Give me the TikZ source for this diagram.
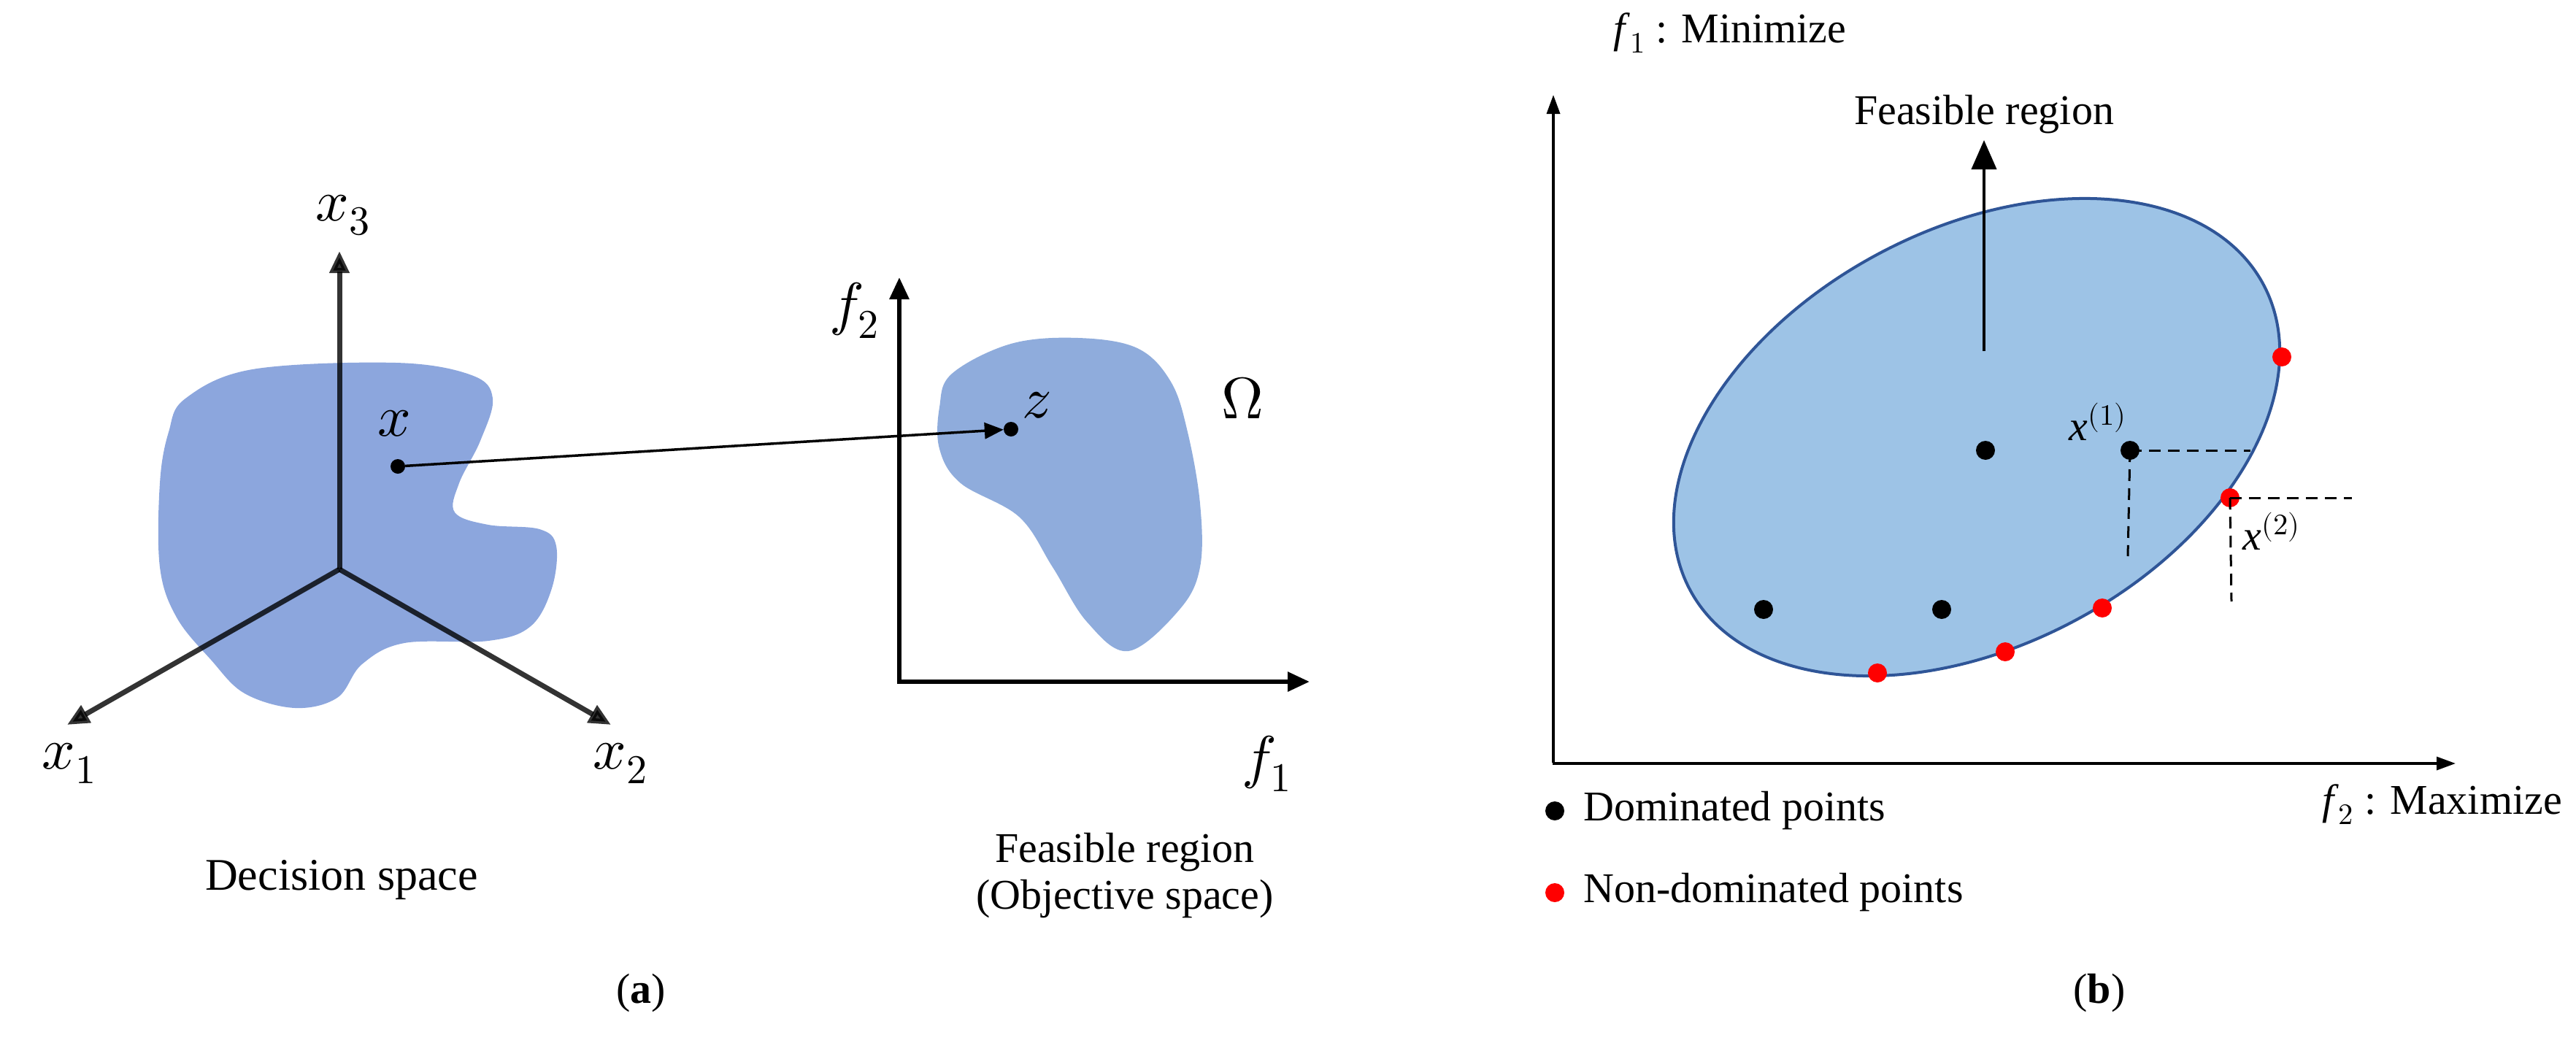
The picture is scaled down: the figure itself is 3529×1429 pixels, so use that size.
\documentclass[tikz,border=0pt]{standalone}
\usepackage{fontspec}
\usepackage{unicode-math}
\setmainfont{Liberation Serif}
\setmathfont{Latin Modern Math}
\usetikzlibrary{arrows.meta}
\definecolor{blobA}{RGB}{120,150,215}
\definecolor{blobB}{RGB}{143,172,220}
\definecolor{ellF}{RGB}{157,195,230}
\definecolor{ellD}{RGB}{47,85,151}
\tikzset{
 ax/.style={line width=7pt,-{Triangle[length=30pt,width=26pt]}},
 axr/.style={line width=3.5pt,-{Triangle[length=26pt,width=18pt]}},
 lbl/.style={font=\fontsize{58}{64}\selectfont,inner sep=0pt},
 mlbl/.style={font=\fontsize{80}{90}\selectfont,inner sep=0pt},
 bdot/.style={circle,fill=black,minimum size=26pt,inner sep=0pt},
 rdot/.style={circle,fill=red,minimum size=26pt,inner sep=0pt},
 dsh/.style={line width=3pt,dash pattern=on 16pt off 10pt},
}
\begin{document}
\begin{tikzpicture}[x=1pt,y=-1pt]
\useasboundingbox (0,0) rectangle (3529,1429);
% left blob
\fill[blobA,opacity=0.85] plot[smooth cycle,tension=0.6] coordinates{(254,546)(346,506)(542,497)(646,514)(675,546)(658,604)(629,662)(623,702)(669,719)(739,725)(762,748)(756,806)(727,858)(669,878)(554,881)(496,910)(462,956)(404,970)(335,950)(289,904)(242,846)(219,777)(219,662)(231,592)};
\coordinate (o) at (465,780);
\coordinate (x3e) at (465,344);
\coordinate (x1e) at (92,993);
\coordinate (x2e) at (837,993);
\draw[ax,opacity=0.8] (o) -- (x3e);
\draw[ax,opacity=0.8] (o) -- (x1e);
\draw[ax,opacity=0.8] (o) -- (x2e);
\node[mlbl] (lx3) at (470,295) {$x_3$};
\node[mlbl] (lx1) at (95,1046) {$x_1$};
\node[mlbl] (lx2) at (850,1046) {$x_2$};
% omega blob
\fill[blobB] plot[smooth cycle,tension=0.6] coordinates{(1304,512)(1385,471)(1477,463)(1558,477)(1604,523)(1627,592)(1644,690)(1644,777)(1616,835)(1546,892)(1489,852)(1442,777)(1396,708)(1316,662)(1287,615)(1287,558)};
\coordinate (fo) at (1232,934);
\coordinate (f2e) at (1232,380);
\coordinate (f1e) at (1794,934);
\draw[ax,line width=6pt] (fo) -- (f2e);
\draw[ax,line width=6pt] ([xshift=-3pt]fo) -- (f1e);
\node[mlbl] (lf2) at (1170,425) {$f_2$};
\node[mlbl] (lf1) at (1735,1046) {$f_1$};
\node[mlbl] (lom) at (1702,545) {$\Omega$};
\node[circle,fill=black,minimum size=20pt,inner sep=0pt] (px) at (545,639) {};
\node[circle,fill=black,minimum size=20pt,inner sep=0pt] (pz) at (1385,588) {};
\node[mlbl] (lx) at (540,580) {$x$};
\node[mlbl] (lz) at (1420,555) {$z$};
\draw[line width=3.5pt,-{Triangle[length=26pt,width=22pt]}] (px) -- (pz);
\node[lbl,font=\fontsize{62}{68}\selectfont] (ds) at (468,1206) {Decision space};
\node[lbl,align=center] (fr) at (1541,1200) {Feasible region\\(Objective space)};
\node[lbl] (la) at (878,1361) {(\textbf{a})};
\node[lbl] (lb) at (2876,1361) {(\textbf{b})};
% right panel
\coordinate (ro) at (2128,1046);
\coordinate (rye) at (2128,130);
\coordinate (rxe) at (3364,1046);
\draw[axr] ([yshift=1.5pt]ro) -- (rye);
\draw[axr] ([xshift=-1.5pt]ro) -- (rxe);
\node[lbl,anchor=west] (fmin) at (2210,45) {\textit{f}$_1$ : Minimize};
\node[lbl,anchor=east] (fmax) at (3510,1102) {\textit{f}$_2$ : Maximize};
\draw[line width=4pt,draw=ellD,fill=ellF] (2708,599) ellipse[x radius=445,y radius=285,rotate=28];
\coordinate (as) at (2718,481);
\coordinate (ae) at (2718,192);
\draw[line width=4pt,-{Triangle[length=40pt,width=34pt]}] (as) -- (ae);
\node[lbl] (lfr) at (2718,157) {Feasible region};
\node[bdot] (b1) at (2720,617) {};
\node[bdot] (b2) at (2918,617) {};
\node[bdot] (b3) at (2416,835) {};
\node[bdot] (b4) at (2660,835) {};
\node[rdot] (r1) at (3126,489) {};
\node[rdot] (r2) at (3055,682) {};
\node[rdot] (r3) at (2880,833) {};
\node[rdot] (r4) at (2747,893) {};
\node[rdot] (r5) at (2572,922) {};
\coordinate (d1h) at (3083,617);
\coordinate (d1v) at (2915,762);
\coordinate (d2h) at (3222,682);
\coordinate (d2v) at (3057,824);
\draw[dsh] (b2.center) -- (d1h);
\draw[dsh] (b2.center) -- (d1v);
\draw[dsh] (r2.center) -- (d2h);
\draw[dsh] (r2.center) -- (d2v);
\node[lbl] (lx1s) at (2874,578) {\textit{x}$^{(1)}$};
\node[lbl] (lx2s) at (3112,728) {\textit{x}$^{(2)}$};
\node[bdot] (lgb) at (2130,1111) {};
\node[lbl,anchor=west] (lgbt) at (2169,1111) {Dominated points};
\node[rdot] (lgr) at (2130,1223) {};
\node[lbl,anchor=west] (lgrt) at (2169,1223) {Non-dominated points};
\end{tikzpicture}
\end{document}
